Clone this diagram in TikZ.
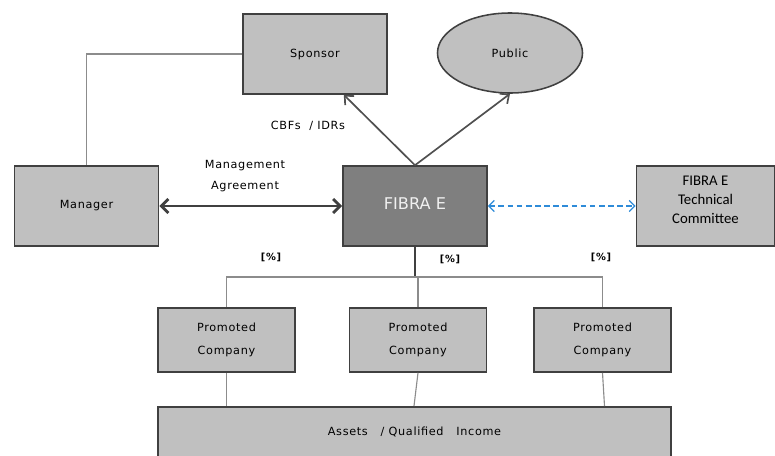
\documentclass[tikz,border=0pt]{standalone}
\usepackage{fontspec}
\setmainfont{DejaVu Sans}[LetterSpace=6]
\newfontfamily\plainfont{DejaVu Sans}
\newfontfamily\calfont{Carlito}
\usetikzlibrary{arrows.meta,shapes.geometric}

\definecolor{boxgray}{HTML}{C0C0C0}
\definecolor{fibragray}{HTML}{7F7F7F}
\definecolor{edgegray}{HTML}{404040}
\definecolor{linkgray}{HTML}{8C8C8C}
\definecolor{arrowgray}{HTML}{505050}
\definecolor{dashblue}{HTML}{2E8BD8}

\tikzset{
	box/.style={draw=edgegray, fill=boxgray, line width=1.1pt, inner sep=0pt, align=center, font=\fontsize{8}{16}\selectfont},
	link/.style={draw=linkgray, line width=0.8pt},
	flow/.style={draw=arrowgray, line width=1.2pt, -{Straight Barb[length=5pt,width=9pt]}},
	mutual/.style={draw=edgegray, line width=2pt, {Straight Barb[length=5pt,width=10pt]}-{Straight Barb[length=5pt,width=10pt]}},
	dashlink/.style={draw=dashblue, line width=0.9pt, dash pattern=on 4pt off 2.5pt, {Straight Barb[length=4pt,width=8pt]}-{Straight Barb[length=4pt,width=8pt]}},
	pct/.style={font=\bfseries\fontsize{7}{8}\selectfont}
}

\begin{document}
\begin{tikzpicture}[x=0.025cm, y=-0.025cm]
	\useasboundingbox (0,0) rectangle (775,455);
	\clip (0,0) rectangle (775,455);

	% Top row
	\node (sponsor) [box, minimum width=3.6cm, minimum height=2cm] at (315,54) {Sponsor};
	\node (public) [box, ellipse, minimum width=3.625cm, minimum height=2cm] at (510,53) {Public};

	% Middle row
	\node (manager) [box, minimum width=3.6cm, minimum height=2cm] at (86.5,206) {Manager};
	\node (fibra) [box, fill=fibragray, text=white!94!black, font=\plainfont\fontsize{11.5}{14}\selectfont, minimum width=3.6cm, minimum height=2cm] at (415,206) {\raisebox{2pt}[\height][\depth]{FIBRA E}};
	\node (committee) [box, font=\calfont\fontsize{10.5}{13.5}\selectfont, minimum width=3.45cm, minimum height=2cm] at (705.5,206)
		{\raisebox{3.5pt}[\height][\depth]{\begin{tabular}{@{}c@{}}FIBRA E\\Technical\\Committee\end{tabular}}};

	% Promoted companies
	\node (pc1) [box, minimum width=3.425cm, minimum height=1.6cm] at (226.5,340) {Promoted\\Company};
	\node (pc2) [box, minimum width=3.425cm, minimum height=1.6cm] at (418,340) {Promoted\\Company};
	\node (pc3) [box, minimum width=3.425cm, minimum height=1.6cm] at (602.5,340) {Promoted\\Company};

	% Assets (cut by the bottom edge)
	\node (assets) [box, anchor=north, minimum width=12.825cm, text height=20.5pt, text depth=25pt] at (414.5,406) {Assets \ \ / Qualified \ \ Income};

	% Labels
	\node (cbf) at (308,126) {\fontsize{8}{10}\selectfont CBFs \ / IDRs};
	\node (mgmt) [align=center, font=\fontsize{8}{15.5}\selectfont] at (245,176) {Management\\Agreement};
	\node (pct1) [pct] at (271,257) {[\%]};
	\node (pct2) [pct] at (450,259) {[\%]};
	\node (pct3) [pct] at (601,257) {[\%]};

	% Connectors
	\draw[link] (sponsor.west) -| (manager.north); % sponsor to manager
	\draw[flow] (fibra.north) -- ([xshift=-1.1cm]sponsor.south east);
	\draw[flow] (fibra.north) -- (public.south);
	\draw[mutual] (manager.east) -- (fibra.west);
	\draw[dashlink] (fibra.east) -- (committee.west);

	% Holding tree
	\coordinate (split) at (415,277);
	\draw[link, draw=edgegray] (fibra.south) -- (split);
	\draw[link] (pc1.north) |- (split) -| (pc3.north);
	\draw[link] (pc2.north) -- (pc2.north |- split);
	\draw[link] (pc1.south) -- (pc1.south |- assets.north);
	\draw[link] (pc2.south) -- ([xshift=-0.1cm]pc2.south |- assets.north);
	\draw[link] (pc3.south) -- ([xshift=0.05cm]pc3.south |- assets.north);
\end{tikzpicture}
\end{document}
